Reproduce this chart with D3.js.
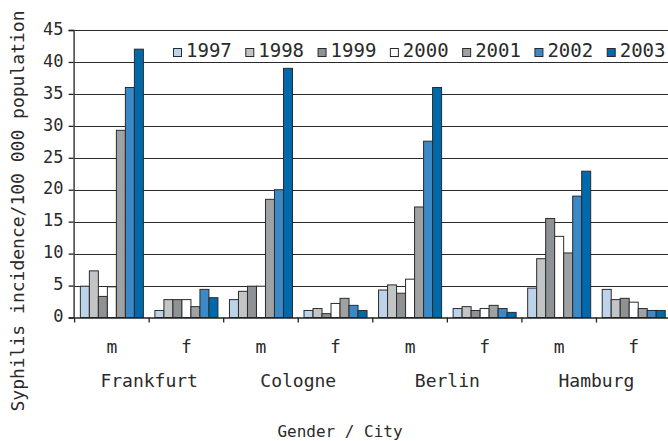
<!DOCTYPE html>
<html>
<head>
<meta charset="utf-8">
<script src="https://cdn.jsdelivr.net/npm/d3@7"></script>
<style>
  html, body { margin: 0; padding: 0; background: #fff; }
  svg { display: block; }
  text { font-family: "DejaVu Sans Mono", monospace; fill: #2a2a2a; }
</style>
</head>
<body>
<svg id="chart" width="668" height="441"></svg>
<script>
const cities = ["Frankfurt", "Cologne", "Berlin", "Hamburg"];
const genders = ["m", "f"];
const years = ["1997", "1998", "1999", "2000", "2001", "2002", "2003"];
const colors = ["#bdd3ea", "#c3c4c6", "#8e9294", "#ffffff", "#9fa1a3", "#3b89c7", "#0069ac"];
const yTicks = [0, 5, 10, 15, 20, 25, 30, 35, 40, 45];

// values per group (city x gender), one per year 1997..2003
const frankfurtM = [4.9, 7.3, 3.3, 4.8, 29.3, 36.0, 42.0];
const frankfurtF = [1.1, 2.8, 2.8, 2.8, 1.7, 4.4, 3.1];
const cologneM   = [2.8, 4.1, 4.9, 4.9, 18.5, 20.0, 39.0];
const cologneF   = [1.1, 1.4, 0.6, 2.2, 3.0, 1.9, 1.1];
const berlinM    = [4.3, 5.1, 3.8, 6.0, 17.3, 27.6, 36.0];
const berlinF    = [1.4, 1.7, 1.1, 1.4, 1.9, 1.4, 0.8];
const hamburgM   = [4.6, 9.2, 15.5, 12.7, 10.1, 19.0, 22.9];
const hamburgF   = [4.4, 2.8, 3.0, 2.4, 1.4, 1.1, 1.1];

(function () {
const groupValues = [frankfurtM, frankfurtF, cologneM, cologneF, berlinM, berlinF, hamburgM, hamburgF];
const groups = [];
cities.forEach(c => genders.forEach(g => groups.push({ key: c + "-" + g, city: c, gender: g })));
groups.forEach((g, i) => g.values = groupValues[i]);

const svg = d3.select("#chart");
const pLeft = 74.6, pRight = 671, pTop = 30, pBottom = 317.5;

const x0 = d3.scaleBand().domain(groups.map(d => d.key)).range([pLeft, pRight]).paddingInner(0).paddingOuter(0);
const x1 = d3.scaleBand().domain(years).range([0, x0.bandwidth()]).paddingInner(0).paddingOuter(0.64);
const y = d3.scaleLinear().domain([0, 45]).range([pBottom, pTop]);

// gridlines
svg.append("g").selectAll("line").data(yTicks.filter(t => t > 0)).join("line")
  .attr("x1", pLeft).attr("x2", 668)
  .attr("y1", d => Math.round(y(d)) + 0.5).attr("y2", d => Math.round(y(d)) + 0.5)
  .attr("stroke", "#2a2a2a").attr("stroke-width", 1.2);

// bars
const gBars = svg.append("g");
groups.forEach(g => {
  gBars.append("g").attr("transform", `translate(${x0(g.key)},0)`)
    .selectAll("rect").data(g.values).join("rect")
    .attr("x", (d, i) => x1(years[i]))
    .attr("width", x1.bandwidth())
    .attr("y", d => y(d))
    .attr("height", d => y(0) - y(d))
    .attr("fill", (d, i) => colors[i])
    .attr("stroke", "#2b2b2b").attr("stroke-width", 1);
});

// y axis
const yAxis = d3.axisLeft(y).tickValues(yTicks).tickSize(5).tickPadding(5);
const ya = svg.append("g").attr("transform", `translate(${pLeft - 1},0)`).call(yAxis);
ya.selectAll("path, line").attr("stroke", "#222").attr("stroke-width", 1.3);
ya.selectAll("text").style("font-size", "17px").attr("fill", "#2a2a2a").attr("dy", "0.25em");

// x axis
const xAxis = d3.axisBottom(x0).tickSize(0).tickFormat(() => "");
const xa = svg.append("g").attr("transform", `translate(0,${pBottom})`).call(xAxis);
xa.select("path").attr("stroke", "#222").attr("stroke-width", 1.3);
// boundary ticks
svg.append("g").selectAll("line").data(groups.map(g => x0(g.key))).join("line")
  .attr("x1", d => d).attr("x2", d => d)
  .attr("y1", pBottom).attr("y2", pBottom + 5)
  .attr("stroke", "#222").attr("stroke-width", 1.3);

// gender labels
svg.append("g").selectAll("text").data(groups).join("text")
  .attr("x", d => x0(d.key) + x0.bandwidth() / 2)
  .attr("y", 353)
  .attr("text-anchor", "middle")
  .style("font-size", "18px")
  .text(d => d.gender);

// city labels
svg.append("g").selectAll("text").data(cities).join("text")
  .attr("x", c => x0(c + "-m") + x0.bandwidth())
  .attr("y", 387)
  .attr("text-anchor", "middle")
  .style("font-size", "18px")
  .text(c => c);

// axis titles
svg.append("text")
  .attr("x", 340).attr("y", 437)
  .attr("text-anchor", "middle")
  .style("font-size", "16px")
  .text("Gender / City");

svg.append("text")
  .attr("transform", "translate(24,211) rotate(-90)")
  .attr("text-anchor", "middle")
  .style("font-size", "18px")
  .text("Syphilis incidence/100 000 population");

// legend
const legendX = d3.scaleBand().domain(years).range([173, 679]);
const lg = svg.append("g").selectAll("g").data(years).join("g")
  .attr("transform", d => `translate(${legendX(d)},0)`);
lg.append("rect")
  .attr("x", 0.5).attr("y", 48.5).attr("width", 8).attr("height", 8)
  .attr("fill", (d, i) => colors[i]).attr("stroke", "#2b2b2b").attr("stroke-width", 1);
lg.append("text")
  .attr("x", 13).attr("y", 56.5)
  .style("font-size", "19px")
  .text(d => d);
})();
</script>
</body>
</html>
